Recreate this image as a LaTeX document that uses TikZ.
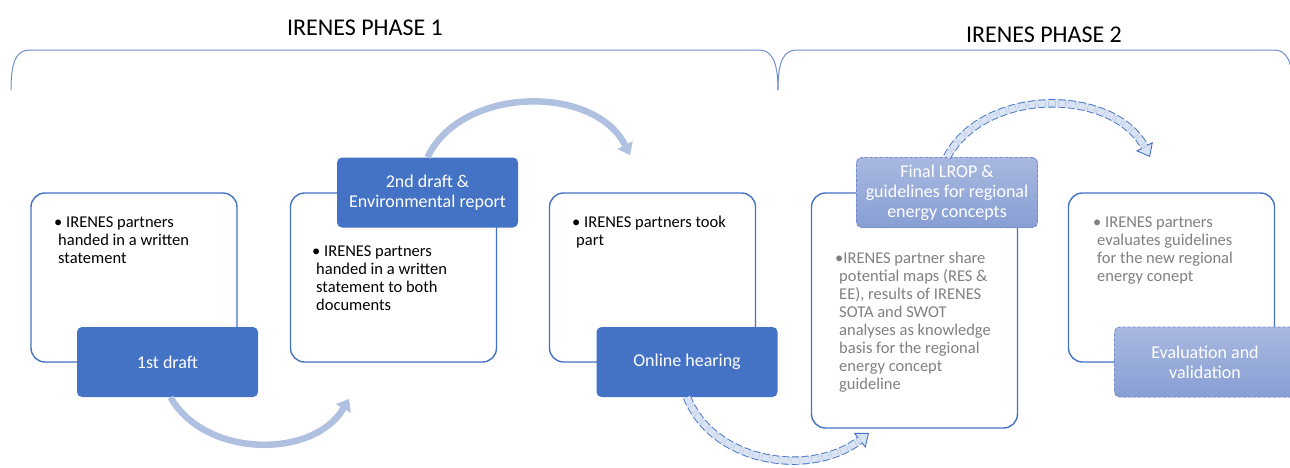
\documentclass[tikz,border=0pt]{standalone}
\usepackage{fontspec}
\setmainfont{Carlito}
\usetikzlibrary{arrows.meta}
\definecolor{mainblue}{RGB}{68,114,196}
\definecolor{bracecol}{RGB}{112,142,200}
\definecolor{arrowcol}{RGB}{176,192,225}
\definecolor{lightfill}{RGB}{218,227,243}
\definecolor{softtop}{RGB}{168,184,223}
\definecolor{softbot}{RGB}{136,159,212}
\definecolor{softedge}{RGB}{112,140,204}
\definecolor{greytext}{RGB}{128,128,128}

\begin{document}
\begin{tikzpicture}[x=1pt,y=1pt]

		\tikzset{stepframe/.style = {draw=mainblue, line width=1.4pt, fill=white, rounded corners=14pt, minimum width=206pt, minimum height=169pt}}
		\tikzset{itemtxt/.style = {anchor=base west, inner sep=0pt, font=\fontsize{16.5}{18}\selectfont}}
		\tikzset{stagelbl/.style = {fill=mainblue, text=white, rounded corners=5pt, minimum width=181pt, minimum height=70pt, align=center, font=\fontsize{18}{20}\selectfont}}
		\tikzset{stagesoft/.style = {stagelbl, top color=softtop, bottom color=softbot, draw=softedge, line width=0.8pt, dash pattern=on 3pt off 2pt}}
		\tikzset{phasetitle/.style = {anchor=base, inner sep=0pt, font=\fontsize{24}{28}\selectfont}}
		\tikzset{brace/.style = {draw=bracecol, line width=1pt}}
		\tikzset{flow/.style = {draw=arrowcol, line width=6.5pt, -{Triangle[width=17pt,length=11pt,line width=0.5pt]}}}
		\tikzset{dflowfill/.style = {draw=lightfill, line width=8pt, -{Triangle[width=19pt,length=12pt,line width=0.9pt,color=mainblue,fill=lightfill]}}}
		\tikzset{dflowedge/.style = {draw=mainblue, line width=0.9pt, double=lightfill, double distance=6.5pt, dash pattern=on 7pt off 3pt, shorten >=11pt}}
		\useasboundingbox (0,0) rectangle (1290,-467);
		%phases
		\draw[brace] (11,-90) .. controls (11,-60) and (17,-50) .. (30,-50) -- (759,-50) .. controls (771,-50) and (778,-60) .. (778,-90);
		\draw[brace] (778,-90) .. controls (778,-60) and (784,-50) .. (797,-50) -- (1274,-50) .. controls (1286,-50) and (1293,-60) .. (1293,-90);
		\node[phasetitle] (ph1) at (365,-35) {IRENES PHASE 1};
		\node[phasetitle] (ph2) at (1044,-42) {IRENES PHASE 2};
		%frames
		\node[stepframe] (box1) at (134,-277.5) {};
		\node[stepframe] (box2) at (393.5,-277.5) {};
		\node[stepframe] (box3) at (652.5,-277.5) {};
		\node[stepframe, minimum height=235pt] (box4) at (914.5,-310.5) {};
		\node[stepframe] (box5) at (1171.5,-277.5) {};
		%texts
		\node[itemtxt] (txt1) at (54,-227) {\begin{tabular}[t]{@{}l@{}}\textbullet\ IRENES partners\\\hspace*{4pt}handed in a written\\\hspace*{4pt}statement\end{tabular}};
		\node[itemtxt] (txt2) at (312,-256) {\begin{tabular}[t]{@{}l@{}}\textbullet\ IRENES partners\\\hspace*{4pt}handed in a written\\\hspace*{4pt}statement to both\\\hspace*{4pt}documents\end{tabular}};
		\node[itemtxt] (txt3) at (572,-227) {\begin{tabular}[t]{@{}l@{}}\textbullet\ IRENES partners took\\\hspace*{4pt}part\end{tabular}};
		\node[itemtxt, text=greytext] (txt4) at (835,-263) {\begin{tabular}[t]{@{}l@{}}\textbullet{}IRENES partner share\\\hspace*{4pt}potential maps (RES \&\\\hspace*{4pt}EE), results of IRENES\\\hspace*{4pt}SOTA and SWOT\\\hspace*{4pt}analyses as knowledge\\\hspace*{4pt}basis for the regional\\\hspace*{4pt}energy concept\\\hspace*{4pt}guideline\end{tabular}};
		\node[itemtxt, text=greytext] (txt5) at (1093,-227) {\begin{tabular}[t]{@{}l@{}}\textbullet\ IRENES partners\\\hspace*{4pt}evaluates guidelines\\\hspace*{4pt}for the new regional\\\hspace*{4pt}energy conept\end{tabular}};
		%labels
		\node[stagelbl] (lbl1) at (167.5,-362) {1st draft};
		\node[stagelbl] (lbl2) at (427.5,-192.5) {2nd draft \&\\Environmental report};
		\node[stagelbl] (lbl3) at (687,-362) {Online hearing};
		\node[stagesoft] (lbl4) at (947,-192.5) {Final LROP \&\\guidelines for regional\\energy concepts};
		\node[stagesoft] (lbl5) at (1205,-362) {Evaluation and\\validation};
		%arrows
		\coordinate (end1) at (349,-399);
		\coordinate (end2) at (630,-155);
		\coordinate (end3) at (869,-433);
		\coordinate (end4) at (1150,-157);
		\draw[flow] ([xshift=3pt]lbl1.south) to[bend right=60] (end1);
		\draw[flow] (lbl2.north) to[bend left=64] (end2);
		\draw[dflowfill] (lbl3.south) to[out=-68,in=-142] (end3);
		\draw[dflowedge] (lbl3.south) to[out=-68,in=-142] (end3);
		\draw[dflowfill] (lbl4.north) to[bend left=62] (end4);
		\draw[dflowedge] (lbl4.north) to[bend left=62] (end4);
		\end{tikzpicture}
\end{document}
